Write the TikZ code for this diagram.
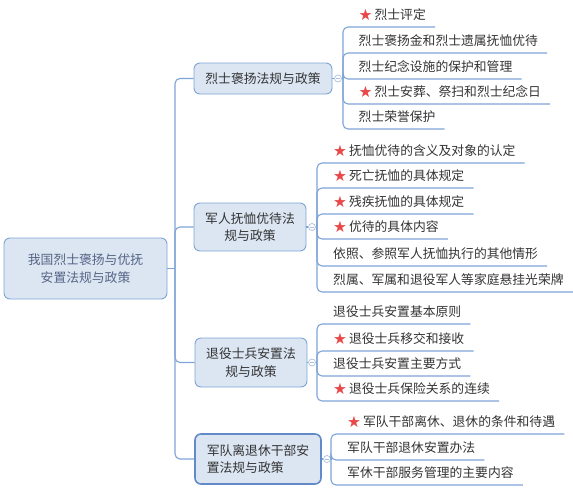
\documentclass[tikz,border=0pt]{standalone}
\usepackage{fontspec}
\setmainfont{Noto Sans CJK SC}
\newfontfamily\starfont{DejaVu Sans}
\usepackage{tikz}
\usetikzlibrary{positioning}
\definecolor{mapBlue}{RGB}{220,230,243}
\definecolor{mapBlueLine}{RGB}{126,163,214}
\definecolor{mapBlueDark}{RGB}{98,138,200}
\definecolor{mapFold}{RGB}{170,190,222}
\definecolor{mapText}{RGB}{51,51,51}
\definecolor{mapRootText}{RGB}{84,100,132}
\definecolor{mapStar}{RGB}{232,72,72}
\newcommand{\hot}{\raisebox{-0.8pt}{\starfont\fontsize{15.5pt}{16pt}\selectfont\color{mapStar}★}\hspace{2pt}}
\tikzset{
  topicbox/.style={draw=mapBlueLine, fill=mapBlue, rounded corners=6pt, line width=0.9pt,
    text=mapText, align=center, inner sep=0pt},
  leaf/.style={anchor=south west, inner xsep=9pt, inner ysep=0pt, text height=11pt,
    text depth=7pt, text=mapText},
  link/.style={mapBlueLine, line width=1.1pt, rounded corners=5pt},
  fold/.style={circle, draw=mapFold, fill=white, minimum size=7pt, inner sep=0pt, line width=0.7pt},
}

\begin{document}
\begin{tikzpicture}[x=1pt, y=-1pt, font=\fontsize{12.8pt}{17.5pt}\selectfont]
\useasboundingbox (0,0) rectangle (573,491);
% main topic and branches
\node[topicbox, text=mapRootText, minimum width=163pt, minimum height=61pt] (root) at (85.5,268.5)
  {我国烈士褒扬与优抚\\安置法规与政策};
\node[topicbox, minimum width=138pt, minimum height=31pt] (b1) at (263,78.5) {烈士褒扬法规与政策};
\node[topicbox, minimum width=112pt, minimum height=48pt] (b2) at (250,227) {军人抚恤优待法\\规与政策};
\node[topicbox, minimum width=112pt, minimum height=49pt] (b3) at (251,362.5) {退役士兵安置法\\规与政策};
\node[topicbox, draw=mapBlueDark, line width=1.6pt, align=left, minimum width=126pt, minimum height=50pt] (b4)
  at (258,459) {军队离退休干部安\\置法规与政策};
% fold markers
\node[fold] (f1) at (338,78.5) {};
\node[fold] (f2) at (312,227) {};
\node[fold] (f3) at (312,362.5) {};
\node[fold] (f4) at (327,459) {};
\foreach \f in {f1,f2,f3,f4}
  \draw[mapFold, line width=0.7pt] ([xshift=-2pt]\f.center) -- ([xshift=2pt]\f.center);
\coordinate (hub) at (175,268.5);
\coordinate (t1) at (343,78.5);
\coordinate (t2) at (317,227);
\coordinate (t3) at (317,362.5);
\coordinate (t4) at (331,459);
% leaves
\node[leaf] (l11) at (343,27)  {\hspace{6.5pt}\hot 烈士评定};
\node[leaf] (l12) at (343,53)  {\hspace{6.5pt}烈士褒扬金和烈士遗属抚恤优待};
\node[leaf] (l13) at (343,79)  {\hspace{6.5pt}烈士纪念设施的保护和管理};
\node[leaf] (l14) at (343,104) {\hspace{6.5pt}\hot 烈士安葬、祭扫和烈士纪念日};
\node[leaf] (l15) at (343,129) {\hspace{6.5pt}烈士荣誉保护};
\node[leaf] (l21) at (317,163) {\hspace{7pt}\hot 抚恤优待的含义及对象的认定};
\node[leaf] (l22) at (317,188) {\hspace{7pt}\hot 死亡抚恤的具体规定};
\node[leaf] (l23) at (317,214) {\hspace{7pt}\hot 残疾抚恤的具体规定};
\node[leaf] (l24) at (317,239) {\hspace{7pt}\hot 优待的具体内容};
\node[leaf] (l25) at (317,266) {\hspace{7pt}依照、参照军人抚恤执行的其他情形};
\node[leaf] (l26) at (317,292) {\hspace{7pt}烈属、军属和退役军人等家庭悬挂光荣牌};
\node[leaf] (l31) at (317,324) {\hspace{7pt}退役士兵安置基本原则};
\node[leaf] (l32) at (317,351) {\hspace{7pt}\hot 退役士兵移交和接收};
\node[leaf] (l33) at (317,376) {\hspace{7pt}退役士兵安置主要方式};
\node[leaf] (l34) at (317,401) {\hspace{7pt}\hot 退役士兵保险关系的连续};
\node[leaf] (l41) at (331,434) {\hspace{7pt}\hot 军队干部离休、退休的条件和待遇};
\node[leaf] (l42) at (331,460) {\hspace{7pt}军队干部退休安置办法};
\node[leaf] (l43) at (331,485) {\hspace{7pt}军休干部服务管理的主要内容};
% connectors
\draw[link] (root.east) -- (hub);
\foreach \b in {b1,b2,b3,b4}
  \draw[link] (hub) |- (\b.west);
\foreach \i in {1,2,3,4} {
  \draw[link] (b\i.east) -- (f\i.west);
  \draw[link] (f\i.east) -- (t\i);
}
\foreach \n in {1,...,5}
  \draw[link] (t1) |- (l1\n.south east);
\foreach \n in {1,...,6}
  \draw[link] (t2) |- (l2\n.south east);
\foreach \n in {1,...,4}
  \draw[link] (t3) |- (l3\n.south east);
\foreach \n in {1,...,3}
  \draw[link] (t4) |- (l4\n.south east);
\end{tikzpicture}
\end{document}
